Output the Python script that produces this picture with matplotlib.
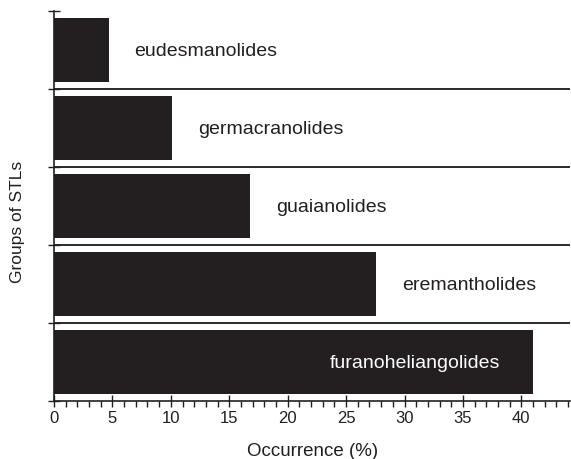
import matplotlib
matplotlib.use("Agg")
import matplotlib.pyplot as plt
from matplotlib.ticker import MultipleLocator, FixedLocator

plt.rcParams['font.family'] = ['Liberation Sans', 'DejaVu Sans']

categories = ["eudesmanolides", "germacranolides", "guaianolides",
              "eremantholides", "furanoheliangolides"]
values = [4.7, 10.1, 16.8, 27.6, 41.0]
xticks = [0, 5, 10, 15, 20, 25, 30, 35, 40]

bar_color = "#231f20"

fig = plt.figure(figsize=(5.71, 4.60), dpi=100)
ax = fig.add_axes([54/571, 1 - 402/460, 1 - 54/571 - 0.001, (402 - 12)/460])

n = len(categories)
ypos = list(range(n))
ax.barh(ypos, values, height=0.82, color=bar_color, zorder=2)

# separators between groups
for i in range(1, n):
    ax.axhline(i - 0.5, color="#2a2a2a", lw=1.4, zorder=1)

# labels
for i, (c, v) in enumerate(zip(categories, values)):
    if i == n - 1:
        ax.text(v * 0.754, i, c, ha="center", va="center", color="white",
                fontsize=14, zorder=3)
    else:
        ax.text(v + 2.2, i, c, ha="left", va="center", color="#231f20",
                fontsize=14, zorder=3)

ax.set_xlim(0, 44.2)
ax.set_ylim(n - 0.5, -0.5)

ax.xaxis.set_major_locator(FixedLocator(xticks))
ax.xaxis.set_minor_locator(MultipleLocator(1))
ax.set_xticklabels([str(t) for t in xticks], fontsize=12)
ax.tick_params(axis="x", which="major", direction="inout", length=9, width=1.0, pad=2, colors="#231f20")
ax.tick_params(axis="x", which="minor", direction="out", length=4, width=1.0, colors="#231f20")

ax.yaxis.set_major_locator(FixedLocator([i - 0.5 for i in range(n + 1)]))
ax.set_yticklabels([])
ax.tick_params(axis="y", which="major", direction="inout", length=8, width=1.0, colors="#231f20")

for s in ["top", "right"]:
    ax.spines[s].set_visible(False)
for s in ["left", "bottom"]:
    ax.spines[s].set_linewidth(1.2)
    ax.spines[s].set_color("#231f20")

ax.set_xlabel("Occurrence (%)", fontsize=13.5, color="#231f20", labelpad=12)
fig.text(18/571, 1 - 222/460, "Groups of STLs", rotation=90, fontsize=12.5,
         color="#231f20", ha="center", va="center")

fig.savefig("out.png", dpi=100)
